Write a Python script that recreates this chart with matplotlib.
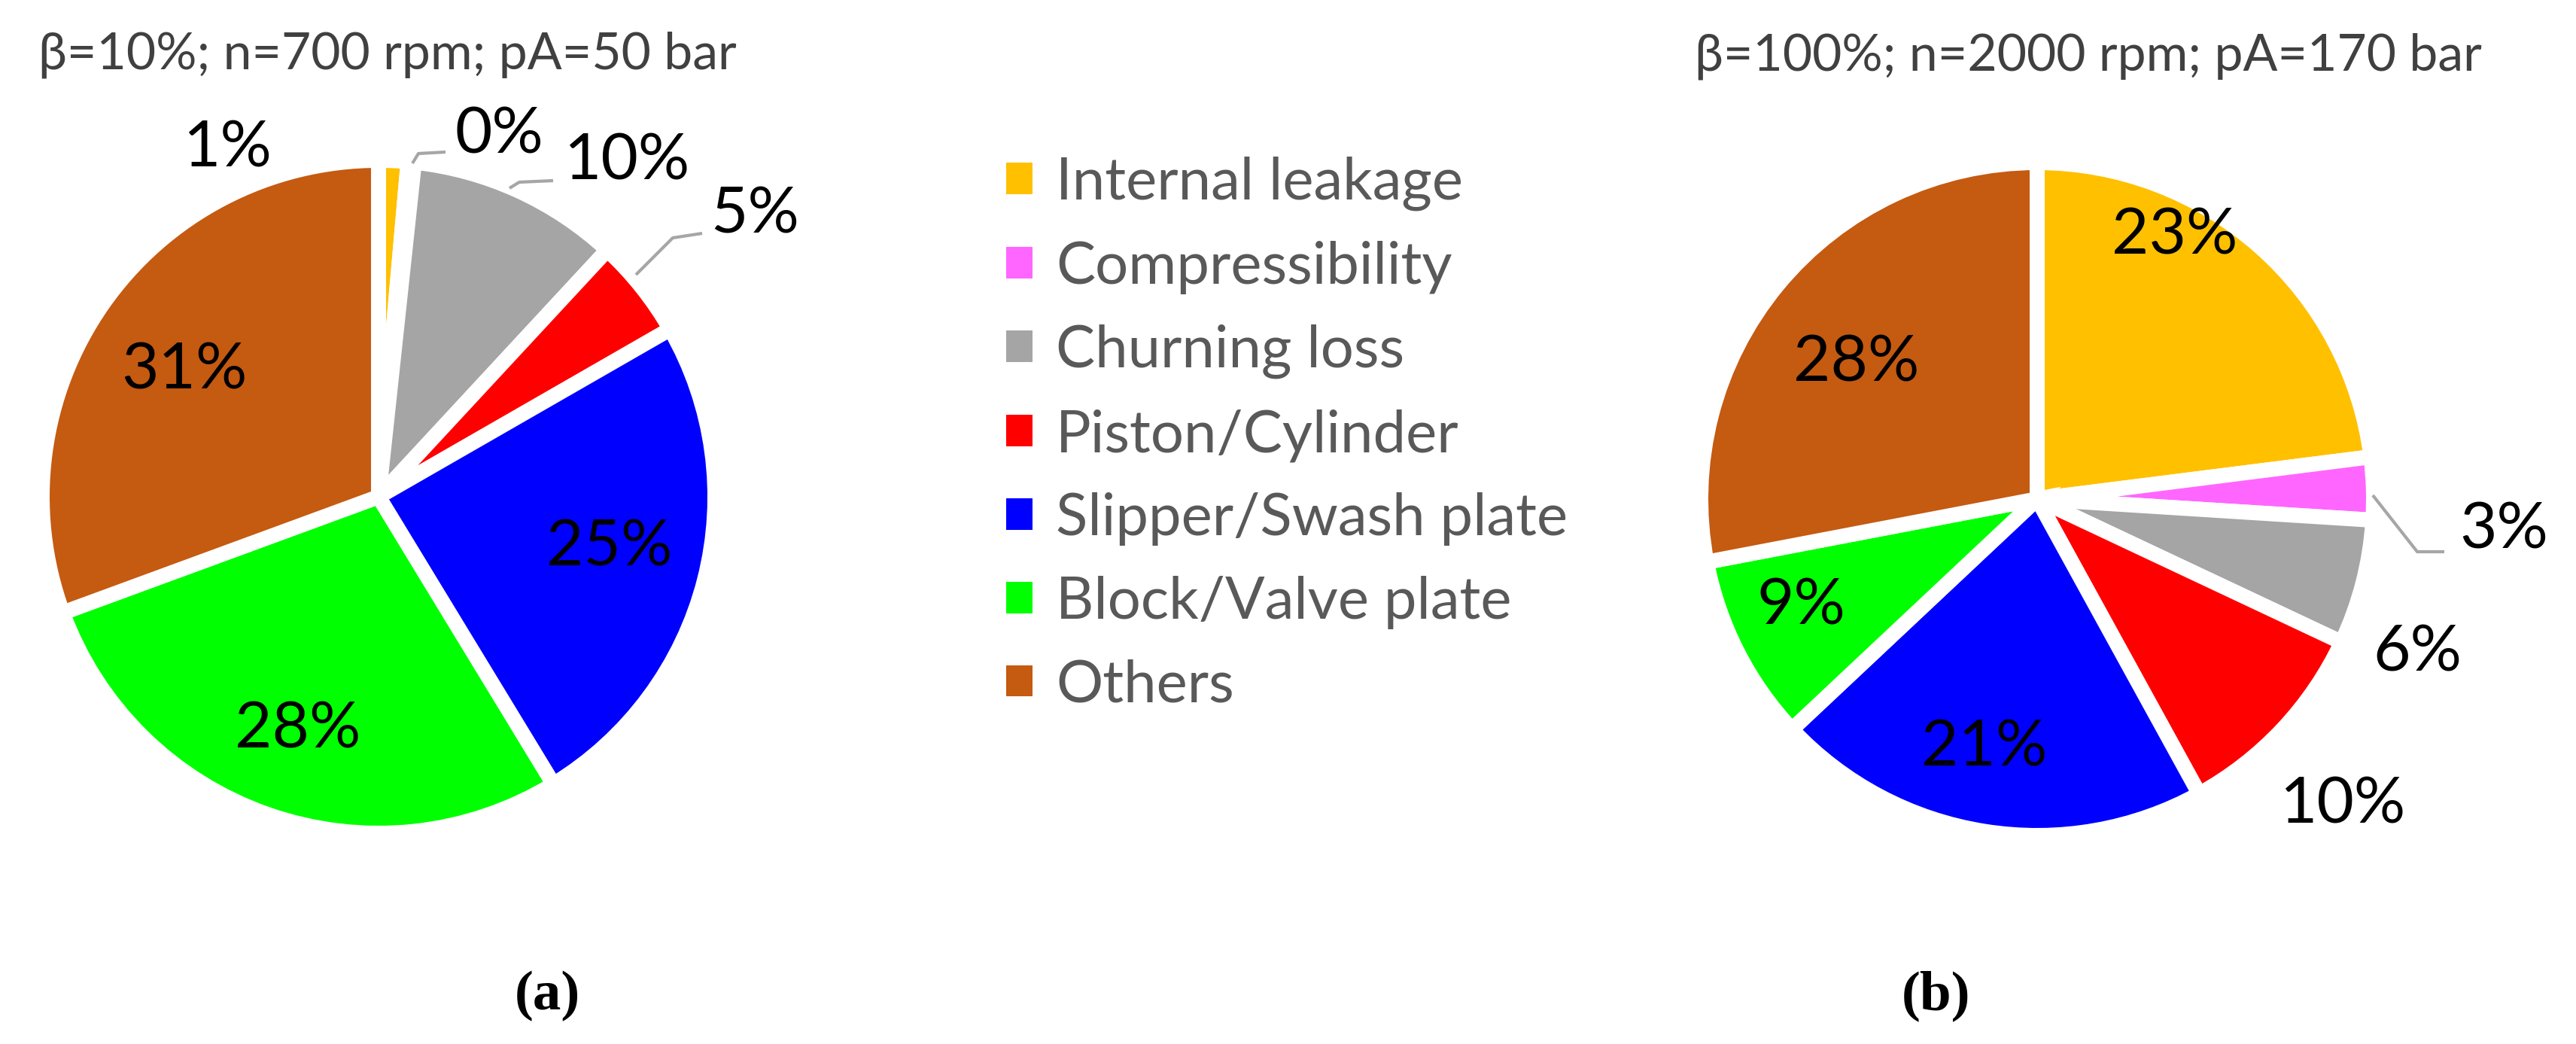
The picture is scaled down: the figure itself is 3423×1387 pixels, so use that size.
import matplotlib
matplotlib.use('Agg')
import matplotlib.pyplot as plt
from matplotlib.patches import Patch

categories = ['Internal leakage', 'Compressibility', 'Churning loss', 'Piston/Cylinder',
              'Slipper/Swash plate', 'Block/Valve plate', 'Others']
colors = ['#FFC000', '#FF66FF', '#A5A5A5', '#FF0000', '#0000FF', '#00FF00', '#C55A11']

# share of total losses in %
share_a = [1.4, 0.3, 10.2, 4.8, 24.6, 28.1, 30.6]
share_b = [23, 3, 6, 10, 21, 9, 28]

title_a = 'β=10%; n=700 rpm; pA=50 bar'
title_b = 'β=100%; n=2000 rpm; pA=170 bar'

FONT = ['Lato', 'DejaVu Sans']
W, H = 3423, 1387
fig = plt.figure(figsize=(W / 300, H / 300), dpi=300)


def fx(x):
    return x / W


def fy(y):
    return 1 - y / H


def draw_pie(cx, cy, values, label_pos, leaders):
    u = 447  # pixels per unit radius
    half = 1.05
    ax = fig.add_axes([fx(cx - half * u), fy(cy + half * u), 2 * half * u / W, 2 * half * u / H])
    wedges, texts, autotexts = ax.pie(values, colors=colors, startangle=90, counterclock=False,
                                      autopct='%.0f%%', pctdistance=0.7,
                                      wedgeprops=dict(edgecolor='white', linewidth=4.8),
                                      textprops=dict(fontsize=20.5, family=FONT, color='black'))
    ax.set_xlim(-half, half)
    ax.set_ylim(-half, half)
    for t, (x, y) in zip(autotexts, label_pos):
        t.set_position(((x - cx) / u, (cy - y) / u))
        t.set_va('center')
    for pts in leaders:
        xs = [(p[0] - cx) / u for p in pts]
        ys = [(cy - p[1]) / u for p in pts]
        ax.plot(xs, ys, color='#A6A6A6', lw=1.0, clip_on=False, solid_capstyle='butt')
    return ax


# label positions (pixels in the picture)
pos_a = [(302, 198), (663, 180), (833, 215), (1003, 286), (810, 728), (396, 970), (245, 493)]
pos_b = [(2890, 314), (3327, 705), (3212, 868), (3113, 1070), (2637, 994), (2393, 806), (2467, 483)]
lead_a = [[(548, 217), (556, 204), (592, 202)],
          [(677, 250), (690, 242), (735, 240)],
          [(845, 365), (894, 316), (933, 310)]]
lead_b = [[(3153, 658), (3212, 733), (3248, 733)]]

draw_pie(503, 660, share_a, pos_a, lead_a)
draw_pie(2707, 663, share_b, pos_b, lead_b)

fig.text(fx(515), fy(92), title_a, ha='center', va='baseline', fontsize=16.3,
         color='#404040', family=FONT)
fig.text(fx(2775), fy(94), title_b, ha='center', va='baseline', fontsize=16.3,
         color='#404040', family=FONT)

fig.text(fx(727), fy(1323), '(a)', ha='center', va='center', fontsize=18,
         fontweight='bold', family='Liberation Serif')
fig.text(fx(2572), fy(1323), '(b)', ha='center', va='center', fontsize=18,
         fontweight='bold', family='Liberation Serif')

handles = [Patch(facecolor=c, edgecolor='none') for c in colors]
leg = fig.legend(handles, categories, loc='upper left', bbox_to_anchor=(fx(1337), fy(208)),
                 frameon=False, prop={'family': FONT, 'size': 18.7},
                 handlelength=0.45, handleheight=0.45, handletextpad=0.4,
                 labelspacing=0.51, borderpad=0, borderaxespad=0)
for t in leg.get_texts():
    t.set_color('#595959')

fig.savefig('out.png', dpi=300, facecolor='white')
